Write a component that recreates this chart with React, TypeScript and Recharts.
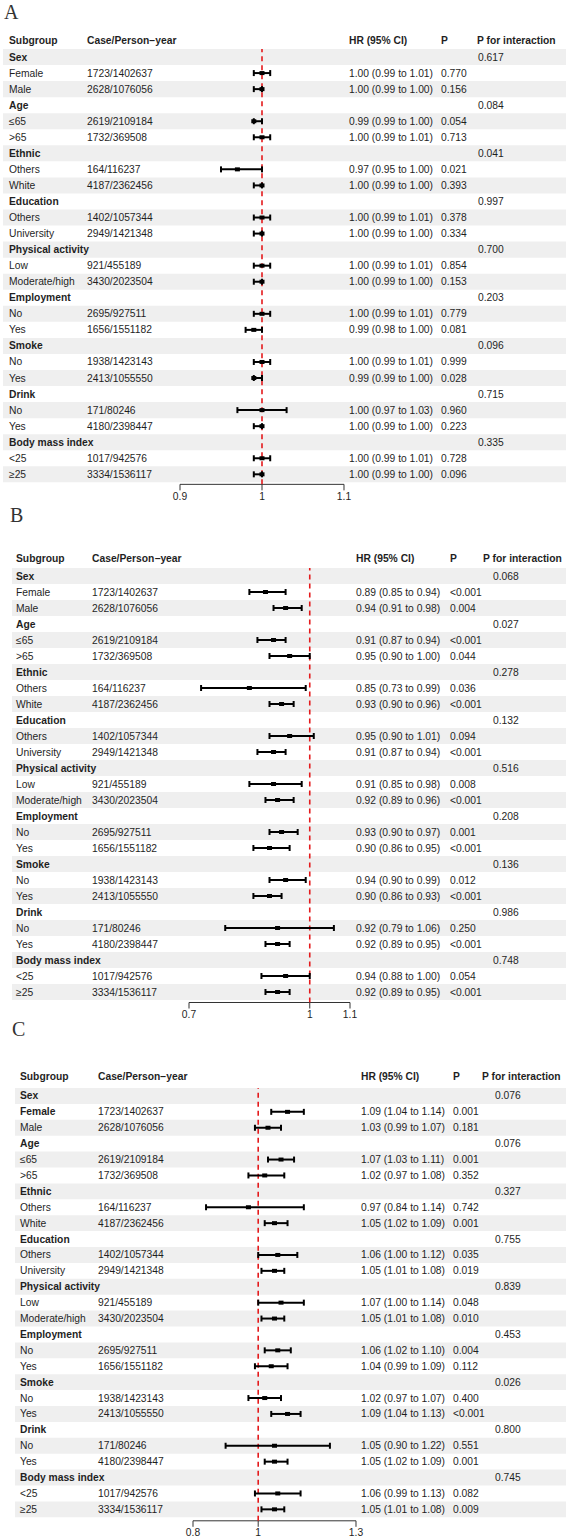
import React from "react";
import {
  ComposedChart,
  Scatter,
  ErrorBar,
  XAxis,
  YAxis,
  ReferenceArea,
  ReferenceLine,
} from "recharts";

// Subgroups shared by all three models
const groups = [
  "Sex",
  "Age",
  "Ethnic",
  "Education",
  "Physical activity",
  "Employment",
  "Smoke",
  "Drink",
  "Body mass index",
];
const levels = [
  ["Female", "Male"],
  ["≤65", ">65"],
  ["Others", "White"],
  ["Others", "University"],
  ["Low", "Moderate/high"],
  ["No", "Yes"],
  ["No", "Yes"],
  ["No", "Yes"],
  ["<25", "≥25"],
];
const casePersonYears = [
  "1723/1402637", "2628/1076056", "2619/2109184", "1732/369508",
  "164/116237", "4187/2362456", "1402/1057344", "2949/1421348",
  "921/455189", "3430/2023504", "2695/927511", "1656/1551182",
  "1938/1423143", "2413/1055550", "171/80246", "4180/2398447",
  "1017/942576", "3334/1536117",
];

// Model A
const hrA = [1.0, 1.0, 0.99, 1.0, 0.97, 1.0, 1.0, 1.0, 1.0, 1.0, 1.0, 0.99, 1.0, 0.99, 1.0, 1.0, 1.0, 1.0];
const loA = [0.99, 0.99, 0.99, 0.99, 0.95, 0.99, 0.99, 0.99, 0.99, 0.99, 0.99, 0.98, 0.99, 0.99, 0.97, 0.99, 0.99, 0.99];
const hiA = [1.01, 1.0, 1.0, 1.01, 1.0, 1.0, 1.01, 1.0, 1.01, 1.0, 1.01, 1.0, 1.01, 1.0, 1.03, 1.0, 1.01, 1.0];
const pA = ["0.770", "0.156", "0.054", "0.713", "0.021", "0.393", "0.378", "0.334", "0.854", "0.153", "0.779", "0.081", "0.999", "0.028", "0.960", "0.223", "0.728", "0.096"];
const pIntA = ["0.617", "0.084", "0.041", "0.997", "0.700", "0.203", "0.096", "0.715", "0.335"];
const ticksA = [0.9, 1, 1.1];

// Model B
const hrB = [0.89, 0.94, 0.91, 0.95, 0.85, 0.93, 0.95, 0.91, 0.91, 0.92, 0.93, 0.9, 0.94, 0.9, 0.92, 0.92, 0.94, 0.92];
const loB = [0.85, 0.91, 0.87, 0.9, 0.73, 0.9, 0.9, 0.87, 0.85, 0.89, 0.9, 0.86, 0.9, 0.86, 0.79, 0.89, 0.88, 0.89];
const hiB = [0.94, 0.98, 0.94, 1.0, 0.99, 0.96, 1.01, 0.94, 0.98, 0.96, 0.97, 0.95, 0.99, 0.93, 1.06, 0.95, 1.0, 0.95];
const pB = ["<0.001", "0.004", "<0.001", "0.044", "0.036", "<0.001", "0.094", "<0.001", "0.008", "<0.001", "0.001", "<0.001", "0.012", "<0.001", "0.250", "<0.001", "0.054", "<0.001"];
const pIntB = ["0.068", "0.027", "0.278", "0.132", "0.516", "0.208", "0.136", "0.986", "0.748"];
const ticksB = [0.7, 1, 1.1];

// Model C
const hrC = [1.09, 1.03, 1.07, 1.02, 0.97, 1.05, 1.06, 1.05, 1.07, 1.05, 1.06, 1.04, 1.02, 1.09, 1.05, 1.05, 1.06, 1.05];
const loC = [1.04, 0.99, 1.03, 0.97, 0.84, 1.02, 1.0, 1.01, 1.0, 1.01, 1.02, 0.99, 0.97, 1.04, 0.9, 1.02, 0.99, 1.01];
const hiC = [1.14, 1.07, 1.11, 1.08, 1.14, 1.09, 1.12, 1.08, 1.14, 1.08, 1.1, 1.09, 1.07, 1.13, 1.22, 1.09, 1.13, 1.08];
const pC = ["0.001", "0.181", "0.001", "0.352", "0.742", "0.001", "0.035", "0.019", "0.048", "0.010", "0.004", "0.112", "0.400", "<0.001", "0.551", "0.001", "0.082", "0.009"];
const pIntC = ["0.076", "0.076", "0.327", "0.755", "0.839", "0.453", "0.026", "0.800", "0.745"];
const ticksC = [0.8, 1, 1.3];

const FONT = "'Liberation Sans', Arial, sans-serif";
const FS = 10.3;
const TEXT = "#1f1f1f";
const STRIPE = "#efefef";
const REF_RED = "#e41a1c";
const W = 566;

type Row = {
  row: number;
  label: string;
  group: boolean;
  cases?: string;
  hr?: number;
  lo?: number;
  hi?: number;
  p?: string;
  pint?: string;
};

type Layout = {
  letterX: number;
  letterY: number;
  left: number;
  plotTop: number;
  rowH: number;
  axisGap: number;
  headerGap: number;
  t0px: number;
  t1px: number;
  sub: number;
  cas: number;
  hrx: number;
  px: number;
  pintHead: number;
  pint: number;
  boldRows: number[];
};

const panels = [
  {
    name: "A", hr: hrA, lo: loA, hi: hiA, p: pA, pint: pIntA, ticks: ticksA,
    layout: {
      letterX: 4, letterY: 1.5, left: 3, plotTop: 49, rowH: 16.05, axisGap: 2, headerGap: 17,
      t0px: 180, t1px: 344, sub: 9, cas: 87, hrx: 349, px: 441, pintHead: 477, pint: 478, boldRows: [],
    } as Layout,
  },
  {
    name: "B", hr: hrB, lo: loB, hi: hiB, p: pB, pint: pIntB, ticks: ticksB,
    layout: {
      letterX: 10, letterY: 504.5, left: 12, plotTop: 568, rowH: 16, axisGap: 2.5, headerGap: 18,
      t0px: 189, t1px: 350, sub: 16, cas: 92, hrx: 356, px: 450, pintHead: 483, pint: 493, boldRows: [],
    } as Layout,
  },
  {
    name: "C", hr: hrC, lo: loC, hi: hiC, p: pC, pint: pIntC, ticks: ticksC,
    layout: {
      letterX: 12, letterY: 1018.5, left: 15, plotTop: 1088, rowH: 15.9, axisGap: 3.5, headerGap: 19,
      t0px: 193, t1px: 356, sub: 20, cas: 98, hrx: 361, px: 453, pintHead: 482, pint: 495, boldRows: [1],
    } as Layout,
  },
];

function buildRows(pn: (typeof panels)[number]): Row[] {
  const rows: Row[] = [];
  let k = 0;
  groups.forEach((g, gi) => {
    rows.push({ row: rows.length, label: g, group: true, pint: pn.pint[gi] });
    levels[gi].forEach((lv) => {
      rows.push({
        row: rows.length,
        label: lv,
        group: false,
        cases: casePersonYears[k],
        hr: pn.hr[k],
        lo: pn.lo[k],
        hi: pn.hi[k],
        p: pn.p[k],
      });
      k++;
    });
  });
  return rows;
}

const fmt = (v: number) => v.toFixed(2);

function Txt({ x, y, bold, children }: { x: number; y: number; bold?: boolean; children: React.ReactNode }) {
  return (
    <text
      x={x}
      y={y}
      dominantBaseline="central"
      fontFamily={FONT}
      fontSize={FS}
      fontWeight={bold ? 700 : 400}
      fill={TEXT}
    >
      {children}
    </text>
  );
}

function ForestPanel({ pn }: { pn: (typeof panels)[number] }) {
  const L = pn.layout;
  const rows = buildRows(pn);
  const n = rows.length;
  const yMax = n - 0.5 + L.axisGap / L.rowH;
  const plotH = (yMax + 0.5) * L.rowH;
  const headSpace = 40;
  const xAxisH = 28;

  // x scale: tick values pinned to their pixel columns, plot spans the table width
  const t0 = pn.ticks[0];
  const t1 = pn.ticks[pn.ticks.length - 1];
  const k = (L.t1px - L.t0px) / (t1 - t0);
  const domain = [t0 - (L.t0px - L.left) / k, t1 + (W - L.t1px) / k];

  // one text row per table line, anchored on the reference value
  const textRows = rows.map((r) => ({ ...r, x: 1 }));

  const points = rows
    .filter((r) => !r.group)
    .map((r) => ({
      row: r.row,
      x: r.hr as number,
      err: [(r.hr as number) - (r.lo as number), (r.hi as number) - (r.hr as number)],
    }));

  const renderRowText = (props: any) => {
    const r = props.payload as Row;
    const y = props.cy as number;
    const bold = r.group || L.boldRows.includes(r.row);
    const hy = y - L.headerGap;
    return (
      <g>
        {r.row === 0 && (
          <g>
            <Txt x={L.sub} y={hy} bold>Subgroup</Txt>
            <Txt x={L.cas} y={hy} bold>Case/Person−year</Txt>
            <Txt x={L.hrx} y={hy} bold>HR (95% CI)</Txt>
            <Txt x={L.px} y={hy} bold>P</Txt>
            <Txt x={L.pintHead} y={hy} bold>P for interaction</Txt>
          </g>
        )}
        <Txt x={L.sub} y={y} bold={bold}>{r.label}</Txt>
        {r.cases && <Txt x={L.cas} y={y}>{r.cases}</Txt>}
        {r.hr !== undefined && (
          <Txt x={L.hrx} y={y}>{`${fmt(r.hr)} (${fmt(r.lo as number)} to ${fmt(r.hi as number)})`}</Txt>
        )}
        {r.p && <Txt x={L.px} y={y}>{r.p}</Txt>}
        {r.pint && <Txt x={L.pint} y={y}>{r.pint}</Txt>}
      </g>
    );
  };

  return (
    <div style={{ position: "absolute", left: 0, top: L.plotTop - headSpace }}>
      <ComposedChart
        width={W}
        height={headSpace + plotH + xAxisH}
        margin={{ top: headSpace, right: 0, bottom: 0, left: L.left }}
      >
        {rows.map((_, i) =>
          i % 2 === 0 ? (
            <ReferenceArea
              key={`s${i}`}
              y1={i - 0.5}
              y2={i + 0.5}
              fill={STRIPE}
              fillOpacity={1}
              stroke="none"
            />
          ) : null
        )}
        <XAxis
          type="number"
          dataKey="x"
          domain={domain}
          ticks={pn.ticks}
          height={xAxisH}
          axisLine={false}
          tickSize={6}
          tickLine={{ stroke: "#333", strokeWidth: 1 }}
          tick={{ fontSize: FS, fontFamily: FONT, fill: TEXT }}
        />
        <YAxis
          hide
          type="number"
          dataKey="row"
          domain={[-0.5, yMax]}
          reversed
        />
        <ReferenceLine
          segment={[
            { x: t0, y: yMax },
            { x: t1, y: yMax },
          ]}
          stroke="#333"
          strokeWidth={1}
          ifOverflow="visible"
        />
        <ReferenceLine
          x={1}
          stroke={REF_RED}
          strokeWidth={1.6}
          strokeDasharray="5 4"
        />
        <Scatter
          data={textRows}
          isAnimationActive={false}
          shape={renderRowText}
        />
        <Scatter
          data={points}
          isAnimationActive={false}
          shape={(p: any) => (
            <rect x={p.cx - 2.5} y={p.cy - 2} width={5} height={4} fill="#000" />
          )}
        >
          <ErrorBar
            dataKey="err"
            direction="x"
            width={3}
            stroke="#000"
            strokeWidth={2}
            isAnimationActive={false}
          />
        </Scatter>
      </ComposedChart>
    </div>
  );
}

export default function App() {
  return (
    <div
      style={{
        position: "absolute",
        left: 0,
        top: 0,
        width: W,
        height: 1538,
        background: "#fff",
        overflow: "hidden",
      }}
    >
      {panels.map((pn) => (
        <React.Fragment key={pn.name}>
          <div
            style={{
              position: "absolute",
              left: pn.layout.letterX,
              top: pn.layout.letterY,
              fontFamily: "'Liberation Serif', 'Times New Roman', serif",
              fontSize: 20,
              lineHeight: "20px",
              color: "#333",
            }}
          >
            {pn.name}
          </div>
          <ForestPanel pn={pn} />
        </React.Fragment>
      ))}
    </div>
  );
}
